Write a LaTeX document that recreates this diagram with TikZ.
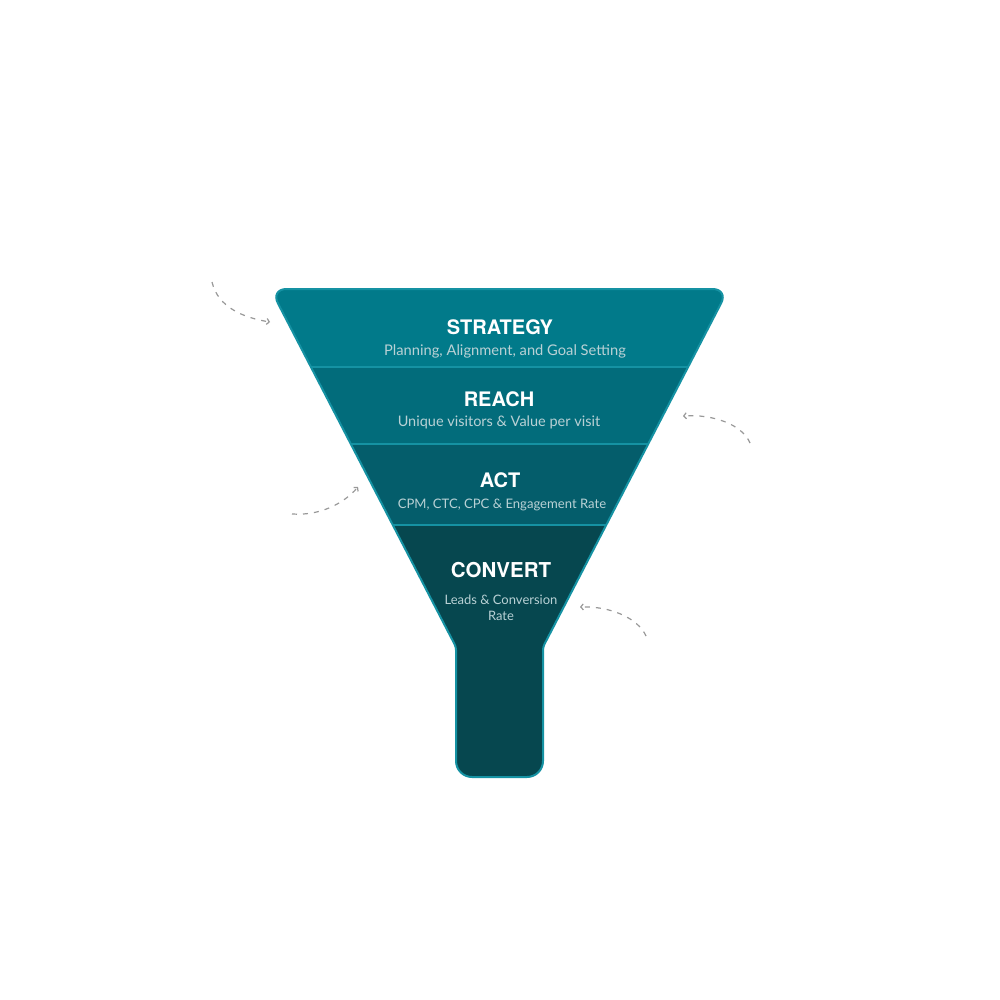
\documentclass[tikz,border=0pt]{standalone}
\usepackage{fontspec}
\setmainfont{TeX Gyre Heros}
\newfontfamily\subfont{Lato}
\usetikzlibrary{arrows.meta}
\definecolor{cS}{HTML}{017A8A}
\definecolor{cR}{HTML}{026C7B}
\definecolor{cA}{HTML}{045D6B}
\definecolor{cC}{HTML}{06474F}
\definecolor{edge}{HTML}{1592A3}
\definecolor{subtxt}{HTML}{B9D1D5}
\definecolor{dash}{HTML}{999999}
\tikzset{
  title/.style={anchor=base, text=white, font=\fontsize{20}{22}\selectfont\bfseries, inner sep=0pt},
  subtitle/.style={anchor=base, text=subtxt, font=\subfont\fontsize{14.7}{16}\selectfont, inner sep=0pt},
  smallsub/.style={subtitle, font=\subfont\fontsize{13}{16}\selectfont},
  divider/.style={draw=edge, line width=2pt},
  flow/.style={draw=dash, line width=1.2pt, dash pattern=on 5pt off 6pt, -{Straight Barb[length=2.5pt,width=6pt]}},
}
\begin{document}
\begin{tikzpicture}[x=1pt,y=-1pt]
\useasboundingbox (0,0) rectangle (1000,1000);
\fill[white] (0,0) rectangle (1000,1000);
\def\funnel{(500,289) [rounded corners=16pt] -- (728.5,289) [rounded corners=3pt] -- (543,647) [rounded corners=16pt] -- (543,777) -- (456,777) [rounded corners=3pt] -- (456,647) [rounded corners=16pt] -- (270.5,289) [sharp corners] -- cycle}
\begin{scope}
  \clip \funnel;
  \fill[cS] (250,280) rectangle (750,367);
  \fill[cR] (250,367) rectangle (750,444);
  \fill[cA] (250,444) rectangle (750,525);
  \fill[cC] (250,525) rectangle (750,800);
\end{scope}
\coordinate (d1l) at (310,367); \coordinate (d1r) at (689,367);
\coordinate (d2l) at (350,444); \coordinate (d2r) at (649,444);
\coordinate (d3l) at (392,525); \coordinate (d3r) at (607,525);
\draw[divider] (d1l) -- (d1r);
\draw[divider] (d2l) -- (d2r);
\draw[divider, line width=2.8pt] (d3l) -- (d3r);
\draw[edge, line width=2pt] \funnel;

\node[title] (t1) at (500,334) {STRATEGY};
\node[subtitle] (s1) at (505,355) {Planning, Alignment, and Goal Setting};
\node[title] (t2) at (499,406) {REACH};
\node[subtitle, font=\subfont\fontsize{14.5}{16}\selectfont] (s2) at (499,426) {Unique visitors \& Value per visit};
\node[title] (t3) at (500,487) {ACT};
\node[smallsub, font=\subfont\fontsize{13.1}{16}\selectfont] (s3) at (502,508.5) {CPM, CTC, CPC \& Engagement Rate};
\node[title, font=\fontsize{20.5}{22}\selectfont\bfseries] (t4) at (501,577) {CONVERT};
\node[smallsub] (s4a) at (501,604) {Leads \& Conversion};
\node[smallsub] (s4b) at (501,620) {Rate};

\coordinate (a1s) at (212,282); \coordinate (a1e) at (270,322);
\coordinate (a2s) at (750,443); \coordinate (a2e) at (683,416);
\coordinate (a3s) at (292,514); \coordinate (a3e) at (358,487);
\coordinate (a4s) at (646,636); \coordinate (a4e) at (580,607);
\draw[flow] (a1s) .. controls (218,308) and (245,318) .. (a1e);
\draw[flow] (a2s) .. controls (742,424) and (712,414) .. (a2e);
\draw[flow] (a3s) .. controls (322,516) and (345,502) .. (a3e);
\draw[flow] (a4s) .. controls (638,618) and (610,606) .. (a4e);
\end{tikzpicture}
\end{document}
